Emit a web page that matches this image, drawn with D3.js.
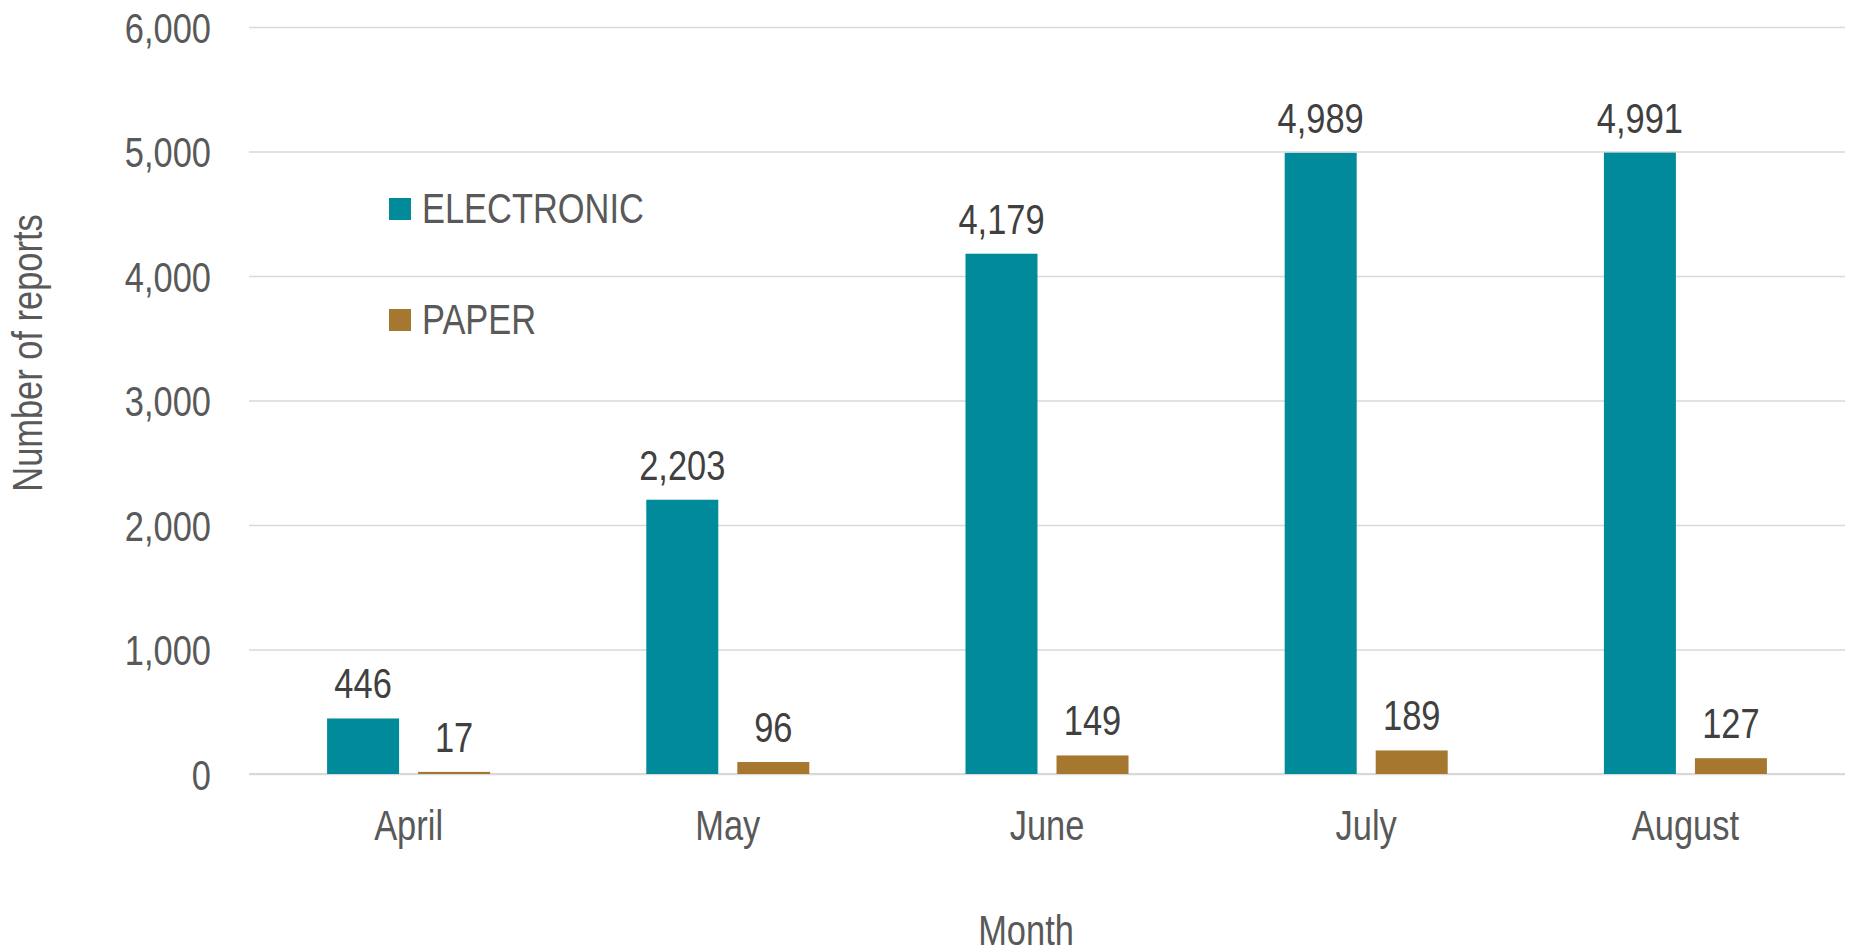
<!DOCTYPE html>
<html>
<head>
<meta charset="utf-8">
<script src="https://cdn.jsdelivr.net/npm/d3@7"></script>
<style>
  html, body { margin: 0; padding: 0; background: #fff; }
  svg { display: block; }
</style>
</head>
<body>
<svg id="chart" width="1852" height="950"></svg>
<script>
// ---- data ----
const months = ["April", "May", "June", "July", "August"];
const seriesNames = ["ELECTRONIC", "PAPER"];
const electronic = [446, 2203, 4179, 4989, 4991];
const paper = [17, 96, 149, 189, 127];
const yTicks = [0, 1000, 2000, 3000, 4000, 5000, 6000];
const yTitle = "Number of reports";
const xTitle = "Month";

// ---- styles / layout ----
const colors = { ELECTRONIC: "#008A9A", PAPER: "#A5772F" };
const FONT_NARROW = "'Liberation Sans Narrow', 'Arial Narrow', 'Liberation Sans', Arial, sans-serif";
const FONT_SIZE = 42;
const plotLeft = 249, plotRight = 1845, plotTop = 27, plotBottom = 774;

const svg = d3.select("#chart");

// detect whether a narrow face is available; otherwise compress horizontally
function measure(fam) {
  const t = svg.append("text").style("font-family", fam).style("font-size", FONT_SIZE + "px").text("ELECTRONIC 4,991");
  const w = t.node().getComputedTextLength();
  t.remove();
  return w;
}
const wN = measure(FONT_NARROW);
const wR = measure("'Liberation Sans', Arial, sans-serif");
const sx = (wN / wR > 0.95) ? 0.82 : 1;

function placeText(sel, x, y) {
  sel.attr("x", 0).attr("y", 0).attr("transform", `translate(${x},${y}) scale(${sx},1)`);
}

const x0 = d3.scaleBand().domain(months).range([plotLeft, plotRight]).padding(0);
const x1 = d3.scaleBand().domain(seriesNames).range([0, x0.bandwidth()])
  .paddingInner(0.209).paddingOuter(0.858);
const y = d3.scaleLinear().domain([0, 6000]).range([plotBottom, plotTop]);

// y axis + gridlines
const yAxis = svg.append("g")
  .attr("transform", `translate(${plotLeft},0)`)
  .call(d3.axisLeft(y).tickValues(yTicks).tickFormat(d3.format(",")).tickSize(-(plotRight - plotLeft)));
yAxis.select(".domain").remove();
yAxis.selectAll(".tick line").attr("stroke", "#d9d9d9").attr("stroke-width", 1.6);
yAxis.selectAll(".tick text")
  .style("font-family", FONT_NARROW).style("font-size", FONT_SIZE + "px")
  .attr("fill", "#595959").attr("text-anchor", "end").attr("dy", null)
  .each(function() { placeText(d3.select(this), -38, 15); });

// x axis
const xAxis = svg.append("g")
  .attr("transform", `translate(0,${plotBottom})`)
  .call(d3.axisBottom(x0).tickSize(0));
xAxis.select(".domain").attr("stroke", "#d9d9d9").attr("stroke-width", 2)
  .attr("d", `M${plotLeft},0H${plotRight}`);
xAxis.selectAll(".tick text")
  .style("font-family", FONT_NARROW).style("font-size", FONT_SIZE + "px")
  .attr("fill", "#595959").attr("text-anchor", "middle").attr("dy", null)
  .each(function() { placeText(d3.select(this), 0, 66); });

// bars
const rows = months.map((m, i) => ({ month: m, values: [
  { key: "ELECTRONIC", value: electronic[i] },
  { key: "PAPER", value: paper[i] }
]}));

const groups = svg.append("g").selectAll("g").data(rows).join("g")
  .attr("transform", d => `translate(${x0(d.month)},0)`);

groups.selectAll("rect").data(d => d.values).join("rect")
  .attr("x", d => x1(d.key))
  .attr("width", x1.bandwidth())
  .attr("y", d => y(d.value))
  .attr("height", d => y(0) - y(d.value))
  .attr("fill", d => colors[d.key]);

groups.selectAll("text.lbl").data(d => d.values).join("text")
  .attr("class", "lbl")
  .style("font-family", FONT_NARROW).style("font-size", FONT_SIZE + "px")
  .attr("fill", "#404040").attr("text-anchor", "middle")
  .text(d => d3.format(",")(d.value))
  .each(function(d) { placeText(d3.select(this), x1(d.key) + x1.bandwidth() / 2, y(d.value) - 20); });

// legend
const legend = svg.append("g");
seriesNames.forEach((s, i) => {
  const ly = 198 + i * 111;
  legend.append("rect").attr("x", 389).attr("y", ly).attr("width", 22).attr("height", 22).attr("fill", colors[s]);
  legend.append("text")
    .style("font-family", FONT_NARROW).style("font-size", FONT_SIZE + "px")
    .attr("fill", "#595959").attr("text-anchor", "start")
    .text(s)
    .call(t => placeText(t, 422, ly + 25));
});

// axis titles
svg.append("text")
  .style("font-family", FONT_NARROW).style("font-size", FONT_SIZE + "px")
  .attr("fill", "#595959").attr("text-anchor", "middle")
  .text(xTitle)
  .call(t => placeText(t, 1026, 945));

svg.append("text")
  .style("font-family", FONT_NARROW).style("font-size", FONT_SIZE + "px")
  .attr("fill", "#595959").attr("text-anchor", "middle")
  .attr("x", 0).attr("y", 0)
  .attr("transform", `translate(42,353) rotate(-90) scale(${sx},1)`)
  .text(yTitle);
</script>
</body>
</html>
